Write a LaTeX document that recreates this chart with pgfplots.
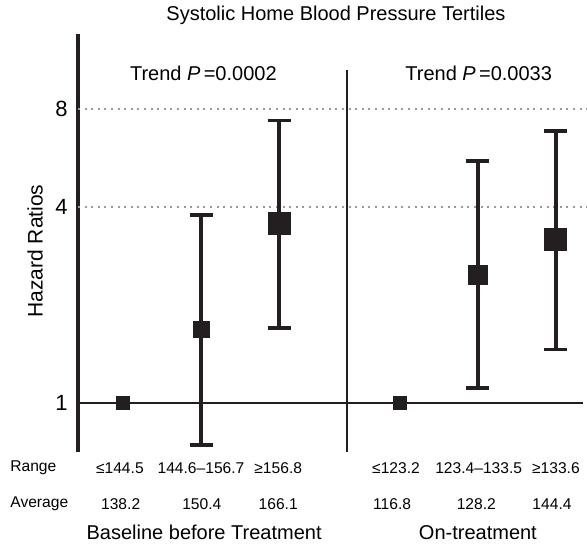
\documentclass[border=0pt]{standalone}
\usepackage{fontspec}
\setmainfont{Liberation Sans}
\usepackage{pgfplots}
\usepackage{pgfplotstable}
\pgfplotsset{compat=1.18}
\definecolor{ink}{HTML}{231F20}

% hazard ratios with 95% CI (not for the reference tertiles)
\pgfplotstableread{
x    y    lo    hi
2    1.68 0.743 3.78
3    3.56 1.70  7.37
5.55 2.47 1.11  5.55
6.55 3.17 1.46  6.86
}\cis

% all six tertiles, s = half side of the square (pt)
\pgfplotstableread{
x    y    s
1    1    3.25
2    1.68 4
3    3.56 5.5
4.55 1    3.25
5.55 2.47 4.75
6.55 3.17 5.5
}\hrs

\newcommand{\sml}{\fontsize{7.8}{9}\selectfont}
\newcommand{\bigt}{\fontsize{10}{12}\selectfont}

\begin{document}
\begin{tikzpicture}
\useasboundingbox (-39pt,-46pt) rectangle (254.5pt,226pt);
\begin{axis}[
    scale only axis,
    width=254.5pt, height=209pt,
    xmin=0.423, xmax=6.949,
    ymode=log, log basis y=2,
    ymin=0.7071, ymax=13.6,
    ytick={1,4,8}, yticklabels={1,4,8},
    xtick=\empty,
    axis x line=none,
    axis y line*=left,
    y axis line style={line width=1.6pt, ink},
    major tick length=0pt, minor tick length=0pt,
    yticklabel style={font=\fontsize{11}{12}\selectfont, inner sep=0pt, xshift=-5pt},
    clip=false,
]
% reference lines
\draw[gray!80, line width=0.6pt, dash pattern=on 1pt off 2.3pt] (axis cs:0.423,4) -- (axis cs:6.949,4);
\draw[gray!80, line width=0.6pt, dash pattern=on 1pt off 2.3pt] (axis cs:0.423,8) -- (axis cs:6.949,8);
\draw[ink, line width=0.8pt] (axis cs:0.423,1) -- (axis cs:6.897,1);
\draw[ink, line width=0.7pt] (axis cs:3.87,0.7071) -- (axis cs:3.87,10.54);

\addplot[draw=none, mark=none, forget plot,
    error bars/.cd, y dir=both, y explicit,
    error bar style={line width=1.8pt, draw=ink},
    error mark options={rotate=90, mark size=5.75pt, line width=1.8pt, draw=ink}]
    table[x=x, y=y, y error plus expr=\thisrow{hi}-\thisrow{y},
          y error minus expr=\thisrow{y}-\thisrow{lo}] {\cis};

\addplot[scatter, only marks, mark=square*,
    scatter/use mapped color={draw=ink, fill=ink},
    mark options={line width=0pt},
    visualization depends on={\thisrow{s}\as\ms},
    scatter/@pre marker code/.append style={/tikz/mark size=\ms}]
    table[x=x, y=y] {\hrs};

% text
\node[font=\bigt] at (axis cs:3.73,15.55) {Systolic Home Blood Pressure Tertiles};
\node[font=\bigt] at (axis cs:2.03,10.32) {Trend \textit{P}\,=0.0002};
\node[font=\bigt] at (axis cs:5.56,10.32) {Trend \textit{P}\,=0.0033};
\node[font=\fontsize{10.5}{12}\selectfont, rotate=90] at (axis cs:-0.128,2.93) {Hazard Ratios};

\node[font=\sml, anchor=west, inner sep=0pt] at (axis cs:-0.449,0.631) {Range};
\node[font=\sml, anchor=west, inner sep=0pt] at (axis cs:-0.449,0.489) {Average};
\node[font=\sml] at (axis cs:0.96,0.631) {≤144.5};
\node[font=\sml] at (axis cs:2.00,0.631) {144.6–156.7};
\node[font=\sml] at (axis cs:2.99,0.631) {≥156.8};
\node[font=\sml] at (axis cs:4.50,0.631) {≤123.2};
\node[font=\sml] at (axis cs:5.56,0.631) {123.4–133.5};
\node[font=\sml] at (axis cs:6.55,0.631) {≥133.6};
\node[font=\sml] at (axis cs:0.97,0.489) {138.2};
\node[font=\sml] at (axis cs:2.01,0.489) {150.4};
\node[font=\sml] at (axis cs:2.99,0.489) {166.1};
\node[font=\sml] at (axis cs:4.45,0.489) {116.8};
\node[font=\sml] at (axis cs:5.53,0.489) {128.2};
\node[font=\sml] at (axis cs:6.50,0.489) {144.4};
\node[font=\bigt] at (axis cs:2.04,0.401) {Baseline before Treatment};
\node[font=\bigt] at (axis cs:5.55,0.401) {On-treatment};
\end{axis}
\end{tikzpicture}
\end{document}
